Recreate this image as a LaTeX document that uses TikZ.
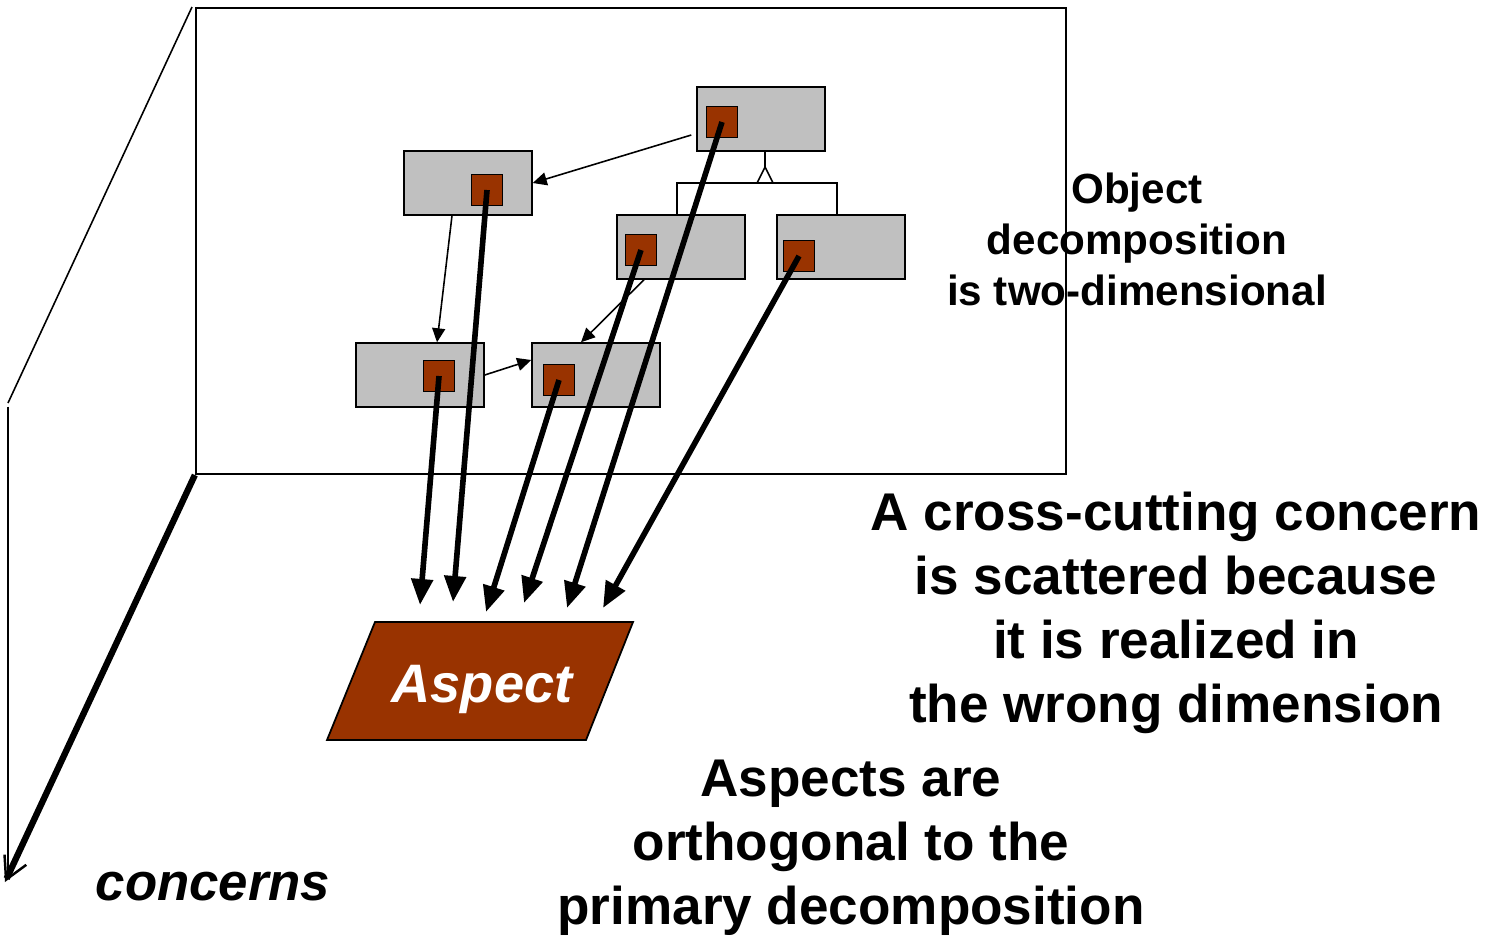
\documentclass[tikz,border=0pt]{standalone}
\usepackage{fontspec}
\setmainfont{Liberation Sans}
\usetikzlibrary{arrows.meta}
\definecolor{boxgray}{HTML}{C0C0C0}
\definecolor{rust}{HTML}{993300}
\tikzset{
  cls/.style={draw, fill=boxgray, line width=0.4pt, minimum width=1.28cm, minimum height=0.64cm, inner sep=0},
  meth/.style={draw, fill=rust, line width=0.5pt, minimum size=0.31cm, inner sep=0},
  call/.style={line width=0.45pt, -{Triangle[length=0.14cm,width=0.13cm]}},
  weave/.style={line width=1.6pt, -{Triangle[length=0.26cm,width=0.21cm]}},
  big/.style={font=\bfseries\fontsize{15.1}{18.2}\selectfont, align=center, anchor=base, inner sep=0},
  small/.style={font=\bfseries\fontsize{12}{14.5}\selectfont, align=center, anchor=base, inner sep=0}
}
\begin{document}
\begin{tikzpicture}[x=0.01cm,y=-0.01cm]
\useasboundingbox (0,0) rectangle (1489,936);
\node[draw, line width=0.5pt, minimum width=8.7cm, minimum height=4.66cm, inner sep=0] (plane) at (631,241) {};
\coordinate (rear) at (192,7);
\coordinate (fold) at (8,403);
\coordinate (foot) at (8,878);
\coordinate (tip) at (5,882);
\draw[line width=0.45pt] (rear) -- (fold);
\draw[line width=0.45pt] ([yshift=-1pt]fold) -- (foot);
\draw[line width=1.8pt, -{Straight Barb[length=0.22cm,width=0.24cm,line width=0.7pt]}] (plane.south west) -- (tip);

\node[cls] (A) at (761,119) {};
\node[cls] (B) at (468,183) {};
\node[cls] (C) at (681,247) {};
\node[cls] (D) at (841,247) {};
\node[cls] (E) at (420,375) {};
\node[cls] (F) at (596,375) {};
\node[meth] (mA) at (722,122) {};
\node[meth] (mB) at (487,190) {};
\node[meth] (mC) at (641,250) {};
\node[meth] (mD) at (799,256) {};
\node[meth] (mE) at (439,376) {};
\node[meth] (mF) at (559,380) {};

\coordinate (gen) at (765,183);
\draw[line width=0.45pt] ([xshift=-0.04cm]C.north) |- (gen) -| ([xshift=-0.04cm]D.north);
\draw[line width=0.45pt] ([xshift=0.04cm]A.south) -- ++(0,16);
\draw[line width=0.45pt, fill=white] (gen) -- ++(-8,0) -- ++(8,-16) -- ++(8,16) -- cycle;

\draw[call] ([yshift=-0.16cm,xshift=-0.05cm]A.west) -- (B.east);
\draw[call] ([xshift=-0.16cm]B.south) -- ([xshift=0.17cm]E.north);
\draw[call] (E.east) -- ([yshift=0.15cm]F.west);
\draw[call] ([xshift=-0.37cm]C.south) -- ([xshift=-0.15cm]F.north);

\coordinate (t1) at (420,605);
\coordinate (t2) at (453,602);
\coordinate (t3) at (486,612);
\coordinate (t4) at (524,603);
\coordinate (t5) at (567,608);
\coordinate (t6) at (603,608);
\draw[weave] (mE.center) -- (t1);
\draw[weave] (mB.center) -- (t2);
\draw[weave] (mF.center) -- (t3);
\draw[weave] (mC.center) -- (t4);
\draw[weave] (mA.center) -- (t5);
\draw[weave] (mD.center) -- (t6);

\draw[line width=0.5pt, fill=rust] (375,622) -- (633,622) -- (586,740) -- (327,740) -- cycle;
\node[font=\bfseries\itshape\fontsize{15.4}{18}\selectfont, text=white, anchor=base, inner sep=0] (aspect) at (482,702) {Aspect};

\node[small] (objdec) at (1137,305) {Object\\decomposition\\is two-dimensional};
\node[big] (scatter) at (1176,722) {A cross-cutting concern\\is scattered because\\it is realized in\\the wrong dimension};
\node[big] (ortho) at (851,924) {Aspects are\\orthogonal to the\\primary decomposition};
\node[font=\bfseries\itshape\fontsize{15}{18}\selectfont, anchor=base, inner sep=0] (concerns) at (213,900) {concerns};
\end{tikzpicture}
\end{document}
